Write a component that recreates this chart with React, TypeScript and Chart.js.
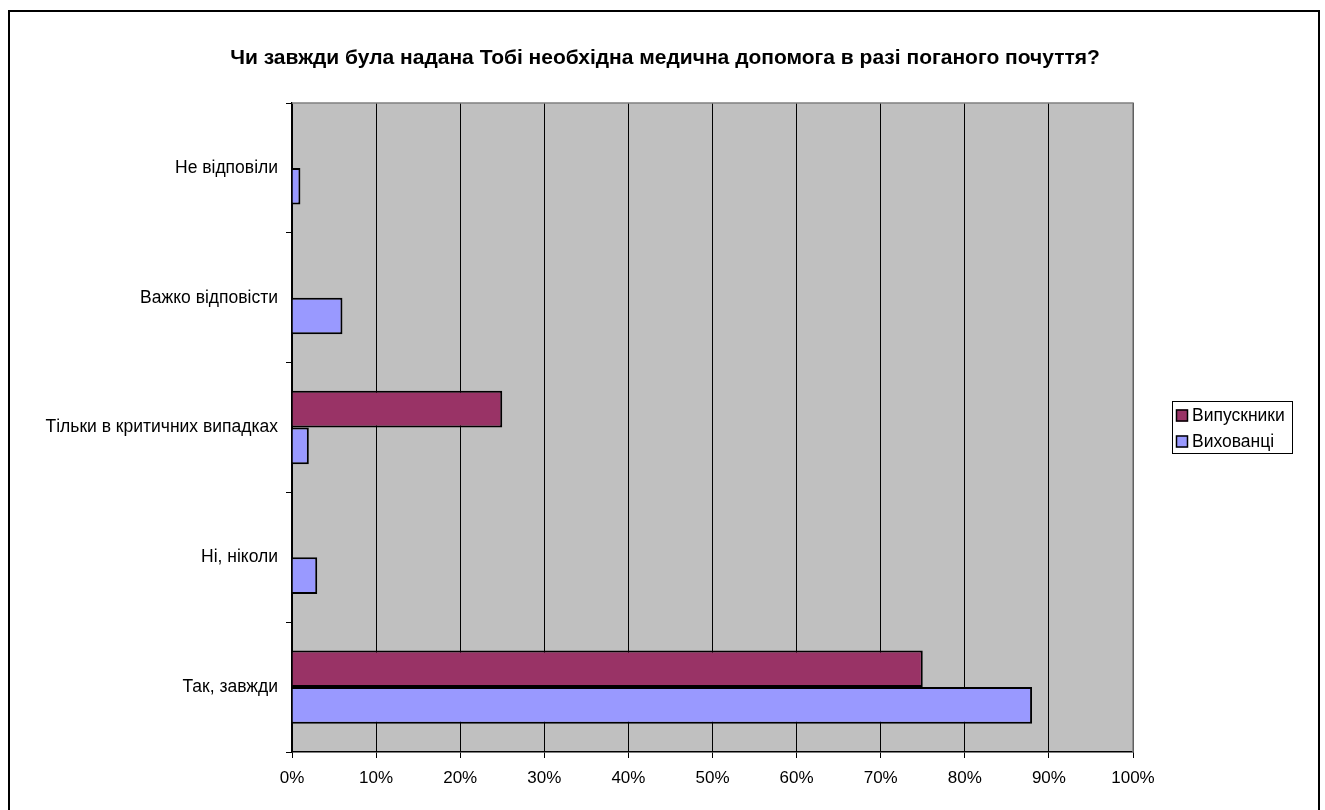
import React, { useEffect, useRef } from "react";
import { Chart, registerables } from "chart.js";

Chart.register(...registerables);

const categories = [
  "Не відповіли",
  "Важко відповісти",
  "Тільки в критичних випадках",
  "Ні, ніколи",
  "Так, завжди",
];
const seriesNames = ["Випускники", "Вихованці"];
const graduates = [null, null, 25, null, 75];
const pupils = [1, 6, 2, 3, 88];
const seriesColors = ["#993366", "#9999FF"];
const xTicks = [0, 10, 20, 30, 40, 50, 60, 70, 80, 90, 100];
const titleText = "Чи завжди була надана Тобі необхідна медична допомога в разі поганого почуття?";

const FONT = "'Liberation Sans', Arial, sans-serif";

const framePlugin = {
  id: "frame",
  beforeDraw(chart: any) {
    const { ctx, chartArea } = chart;
    ctx.save();
    ctx.fillStyle = "#fff";
    ctx.fillRect(0, 0, chart.width, chart.height);
    ctx.fillStyle = "#C0C0C0";
    ctx.fillRect(chartArea.left, chartArea.top, chartArea.right - chartArea.left, chartArea.bottom - chartArea.top);
    ctx.strokeStyle = "#000";
    ctx.lineWidth = 2;
    ctx.strokeRect(9, 11, 1310, 820);
    // title
    ctx.fillStyle = "#000";
    ctx.font = `bold 21px ${FONT}`;
    ctx.textAlign = "center";
    ctx.textBaseline = "middle";
    ctx.fillText(chart.options.plugins.frame.title, 665, 58);
    ctx.restore();
  },
  afterDraw(chart: any) {
    const { ctx, chartArea } = chart;
    ctx.save();
    ctx.strokeStyle = "#808080";
    ctx.lineWidth = 1.5;
    ctx.beginPath();
    ctx.moveTo(chartArea.left, chartArea.top);
    ctx.lineTo(chartArea.right, chartArea.top);
    ctx.lineTo(chartArea.right, chartArea.bottom);
    ctx.stroke();
    // legend
    const lx = 1172, ly = 401, lw = 120, lh = 52;
    ctx.fillStyle = "#fff";
    ctx.fillRect(lx, ly, lw, lh);
    ctx.strokeStyle = "#000";
    ctx.lineWidth = 1;
    ctx.strokeRect(lx + 0.5, ly + 0.5, lw, lh);
    ctx.font = `17.5px ${FONT}`;
    ctx.textBaseline = "middle";
    chart.data.datasets.forEach((ds: any, i: number) => {
      const cy = 415.5 + i * 26;
      ctx.fillStyle = ds.backgroundColor;
      ctx.fillRect(1176, cy - 6, 12, 12);
      ctx.strokeStyle = "#000";
      ctx.lineWidth = 1.5;
      ctx.strokeRect(1176.5, cy - 5.5, 11, 11);
      ctx.fillStyle = "#000";
      ctx.fillText(ds.label, 1192, cy + 1);
    });
    ctx.restore();
  },
};

export default function App() {
  const ref = useRef<HTMLCanvasElement>(null);
  useEffect(() => {
    if (!ref.current) return;
    const chart = new Chart(ref.current, {
      type: "bar",
      data: {
        labels: categories,
        datasets: [
          {
            label: seriesNames[0],
            data: graduates as any,
            backgroundColor: seriesColors[0],
            borderColor: "#000",
            borderWidth: 2,
            categoryPercentage: 0.565,
            barPercentage: 1,
          },
          {
            label: seriesNames[1],
            data: pupils,
            backgroundColor: seriesColors[1],
            borderColor: "#000",
            borderWidth: 2,
            categoryPercentage: 0.565,
            barPercentage: 1,
          },
        ],
      },
      options: {
        indexAxis: "y",
        animation: false,
        responsive: false,
        devicePixelRatio: 1,
        layout: { padding: { left: 8, right: 192, top: 103, bottom: 0 } },
        plugins: {
          legend: { display: false },
          tooltip: { enabled: false },
          title: { display: false },
          frame: { title: titleText },
        },
        scales: {
          x: {
            min: 0,
            max: 100,
            afterBuildTicks: (scale: any) => {
              scale.ticks = xTicks.map((v) => ({ value: v }));
            },
            afterFit: (scale: any) => {
              scale.height = 58;
            },
            ticks: {
              color: "#000",
              font: { family: FONT, size: 17 },
              padding: 10,
              maxRotation: 0,
              callback: (v: any) => `${v}%`,
            },
            grid: { color: "#000", lineWidth: 1, tickLength: 6, drawOnChartArea: true },
            border: { color: "#000", width: 1.5 },
          },
          y: {
            afterFit: (scale: any) => {
              scale.width = 284;
            },
            ticks: {
              color: "#000",
              font: { family: FONT, size: 17.5 },
              padding: 8,
            },
            grid: { offset: true, drawOnChartArea: false, color: "#000", tickLength: 6 },
            border: { color: "#000", width: 1.5 },
          },
        },
      } as any,
      plugins: [framePlugin],
    });
    return () => chart.destroy();
  }, []);
  return (
    <div style={{ position: "absolute", left: 0, top: 0, width: 1325, height: 810 }}>
      <canvas ref={ref} width={1325} height={810} style={{ display: "block", width: 1325, height: 810 }} />
    </div>
  );
}
